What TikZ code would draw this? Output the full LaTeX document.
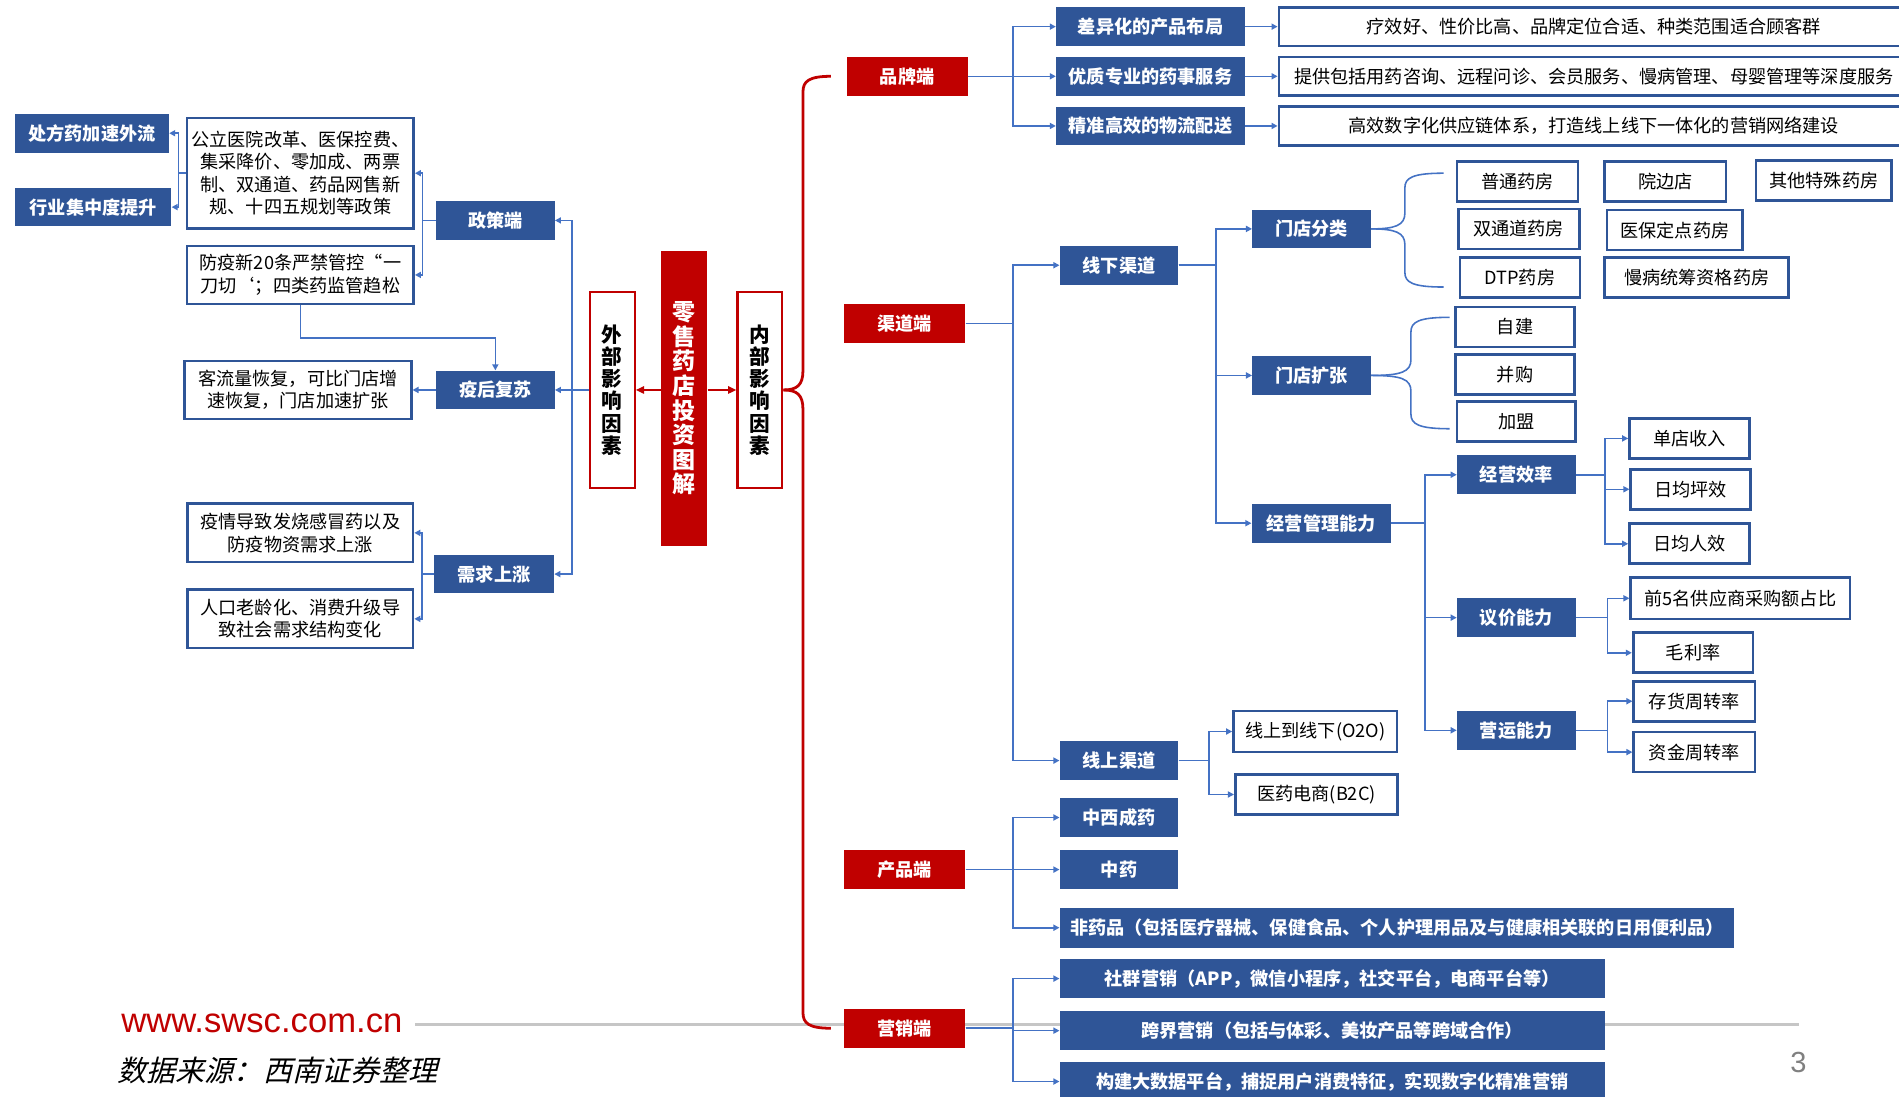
\documentclass[tikz,border=0pt]{standalone}
\usepackage{fontspec}
\setmainfont{Noto Sans CJK SC}
\newfontfamily\webfont{Liberation Sans}
\newfontfamily\notefont[FakeSlant=0.25]{Noto Sans CJK SC}
\usetikzlibrary{arrows.meta}
\definecolor{boxblue}{HTML}{2F5597}
\definecolor{linkblue}{HTML}{4472C4}
\definecolor{brandred}{HTML}{C00000}
\newcommand{\boxfont}{\fontsize{15}{18.5}\selectfont}
\tikzstyle{every node}=[inner sep=0pt, align=center, font=\boxfont]
\tikzstyle{bluebox}=[fill=boxblue, text=white, font=\boxfont\bfseries, minimum width=98, minimum height=32]
\tikzstyle{whitebox}=[draw=boxblue, line width=2.2pt, fill=white, minimum width=99, minimum height=33]
\tikzstyle{redbox}=[fill=brandred, text=white, font=\boxfont\bfseries, minimum width=100, minimum height=32]
\tikzstyle{redframe}=[draw=brandred, line width=1.8pt, fill=white, minimum width=37, minimum height=162, font=\bfseries\fontsize{17}{18.4}\selectfont]
\tikzstyle{link}=[linkblue, line width=1.3pt, -{Triangle[length=5pt,width=5pt]}]
\tikzstyle{bracket}=[linkblue, line width=1.3pt]
\tikzstyle{redlink}=[brandred, line width=2pt, -{Triangle[length=7pt,width=6pt]}]
\tikzstyle{redbrace}=[brandred, line width=2.3pt]

\begin{document}
\begin{tikzpicture}[x=1pt, y=-1pt]
    \fill[white] (0,0) rectangle (1568,905);
    \useasboundingbox (0,0) rectangle (1568,905);
% Footer line
    \draw[gray!45, line width=3pt] (343,846) -- (1485,846);
% Outer factors
    \node[bluebox, minimum width=127] (rxout) at (76,110) {处方药加速外流};
    \node[bluebox, minimum width=129] (concen) at (77,171) {行业集中度提升};
    \node[whitebox, minimum width=187, minimum height=91] (policytxt) at (248,143) {公立医院改革、医保控费、\\集采降价、零加成、两票\\制、双通道、药品网售新\\规、十四五规划等政策};
    \node[whitebox, minimum width=187, minimum height=48] (antiepi) at (248,227) {防疫新20条严禁管控“一\\刀切‘；四类药监管趋松};
    \node[bluebox] (policy) at (409,182) {政策端};
    \node[whitebox, minimum width=187, minimum height=48] (traffic) at (246,322) {客流量恢复，可比门店增\\速恢复，门店加速扩张};
    \node[bluebox] (recover) at (409,322) {疫后复苏};
    \node[whitebox, minimum width=186, minimum height=48] (fever) at (248,440) {疫情导致发烧感冒药以及\\防疫物资需求上涨};
    \node[whitebox, minimum width=186, minimum height=48] (aging) at (248,511) {人口老龄化、消费升级导\\致社会需求结构变化};
    \node[bluebox, minimum width=99] (demand) at (408,474) {需求上涨};
% Centre
    \node[redframe] (outer) at (505.5,322) {外\\部\\影\\响\\因\\素};
    \node[fill=brandred, text=white, minimum width=38, minimum height=244, font=\bfseries\fontsize{19}{20.3}\selectfont] (core) at (565,329) {零\\售\\药\\店\\投\\资\\图\\解};
    \node[redframe] (inner) at (627.5,322) {内\\部\\影\\响\\因\\素};
    \draw[redlink] (core.west |- outer.east) -- (outer.east);
    \draw[redlink] (core.east |- inner.west) -- (inner.west);
% Inner factors
    \node[redbox] (brand) at (749,63) {品牌端};
    \node[redbox] (channel) at (747,267) {渠道端};
    \node[redbox] (product) at (747,718) {产品端};
    \node[redbox] (market) at (747,849) {营销端};
    \coordinate (bracetop) at (686,63);
    \coordinate (bracebot) at (686,849);
    \draw[redbrace] (inner.east) .. controls (658,322) and (663,318) .. (663,306) -- (663,76) .. controls (663,67) and (668,63) .. (bracetop);
    \draw[redbrace] (inner.east) .. controls (658,322) and (663,326) .. (663,338) -- (663,836) .. controls (663,845) and (668,849) .. (bracebot);
% Brand
    \node[bluebox, minimum width=156] (diff) at (950,22) {差异化的产品布局};
    \node[bluebox, minimum width=156] (service) at (950,63) {优质专业的药事服务};
    \node[bluebox, minimum width=156] (logist) at (950,104) {精准高效的物流配送};
    \node[whitebox, minimum width=520, minimum height=32] (diffnote) at (1316,22) {疗效好、性价比高、品牌定位合适、种类范围适合顾客群};
    \node[whitebox, minimum width=520, minimum height=32] (servnote) at (1316,63) {提供包括用药咨询、远程问诊、会员服务、慢病管理、母婴管理等深度服务};
    \node[whitebox, minimum width=520, minimum height=32] (lognote) at (1316,104) {高效数字化供应链体系，打造线上线下一体化的营销网络建设};
    \draw[link] (brand.east) -- ++(37,0) |- (diff.west);
    \draw[link] (brand.east) -- ++(37,0) |- (service.west);
    \draw[link] (brand.east) -- ++(37,0) |- (logist.west);
    \draw[link] (diff.east) -- (diffnote.west);
    \draw[link] (service.east) -- (servnote.west);
    \draw[link] (logist.east) -- (lognote.west);
% Channel
    \node[bluebox] (offline) at (924,219) {线下渠道};
    \node[bluebox] (online) at (924,628) {线上渠道};
    \node[bluebox] (classify) at (1083,189) {门店分类};
    \node[bluebox] (expand) at (1083,310) {门店扩张};
    \node[bluebox, minimum width=115] (manage) at (1091,432) {经营管理能力};
    \node[whitebox, minimum width=100] (ordinary) at (1253,150) {普通药房};
    \node[whitebox, minimum width=100] (nearhosp) at (1375,150) {院边店};
    \node[whitebox, minimum width=112] (special) at (1506,149) {其他特殊药房};
    \node[whitebox, minimum width=100] (dual) at (1254,189) {双通道药房};
    \node[whitebox, minimum width=112] (insured) at (1383,190) {医保定点药房};
    \node[whitebox] (dtp) at (1255,229) {DTP药房};
    \node[whitebox, minimum width=152] (chronic) at (1401,229) {慢病统筹资格药房};
    \node[whitebox, minimum width=98] (selfbuilt) at (1251,270) {自建};
    \node[whitebox, minimum width=98] (merge) at (1251,309) {并购};
    \node[whitebox, minimum width=98] (franchise) at (1252,348) {加盟};
    \node[bluebox] (effic) at (1252,392) {经营效率};
    \node[bluebox] (bargain) at (1252,510) {议价能力};
    \node[bluebox] (operate) at (1252,603) {营运能力};
    \node[whitebox] (revenue) at (1395,362) {单店收入};
    \node[whitebox] (areaeff) at (1396,404) {日均坪效};
    \node[whitebox] (staffeff) at (1395,449) {日均人效};
    \node[whitebox, minimum width=181, minimum height=34] (top5) at (1437,494) {前5名供应商采购额占比};
    \node[whitebox] (margin) at (1398,539) {毛利率};
    \node[whitebox, minimum width=100] (stock) at (1399,579) {存货周转率};
    \node[whitebox, minimum width=100] (capital) at (1399,621) {资金周转率};
    \node[whitebox, minimum width=135, minimum height=34] (o2o) at (1086,604) {线上到线下(O2O)};
    \node[whitebox, minimum width=134] (b2c) at (1087,656) {医药电商(B2C)};
    \draw[link] (channel.east) -- ++(39,0) |- (offline.west);
    \draw[link] (channel.east) -- ++(39,0) |- (online.west);
    \draw[link] (offline.east) -- ++(31,0) |- (classify.west);
    \draw[link] (offline.east) -- ++(31,0) |- (expand.west);
    \draw[link] (offline.east) -- ++(31,0) |- (manage.west);
    \draw[bracket] (classify.east) .. controls (1152,189) and (1160,186) .. (1160,176) -- (1160,155) .. controls (1160,147) and (1166,143) .. (1192,143);
    \draw[bracket] (classify.east) .. controls (1152,189) and (1160,192) .. (1160,202) -- (1160,225) .. controls (1160,233) and (1166,237) .. (1192,237);
    \draw[bracket] (expand.east) .. controls (1157,310) and (1165,307) .. (1165,297) -- (1165,274) .. controls (1165,266) and (1171,262) .. (1197,262);
    \draw[bracket] (expand.east) .. controls (1157,310) and (1165,313) .. (1165,323) -- (1165,342) .. controls (1165,350) and (1171,354) .. (1197,354);
    \draw[link] (manage.east) -- ++(28,0) |- (effic.west);
    \draw[link] (manage.east) -- ++(28,0) |- (bargain.west);
    \draw[link] (manage.east) -- ++(28,0) |- (operate.west);
    \draw[link] (effic.east) -- ++(24,0) |- (revenue.west);
    \draw[link] (effic.east) -- ++(24,0) |- (areaeff.west);
    \draw[link] (effic.east) -- ++(24,0) |- (staffeff.west);
    \draw[link] (bargain.east) -- ++(26,0) |- (top5.west);
    \draw[link] (bargain.east) -- ++(26,0) |- (margin.west);
    \draw[link] (operate.east) -- ++(26,0) |- (stock.west);
    \draw[link] (operate.east) -- ++(26,0) |- (capital.west);
    \draw[link] (online.east) -- ++(25,0) |- (o2o.west);
    \draw[link] (online.east) -- ++(25,0) |- (b2c.west);
% Product
    \node[bluebox] (chinwest) at (924,675) {中西成药};
    \node[bluebox] (tcm) at (924,718) {中药};
    \node[bluebox, minimum width=557, minimum height=33] (nondrug) at (1153.5,766) {非药品（包括医疗器械、保健食品、个人护理用品及与健康相关联的日用便利品）};
    \draw[link] (product.east) -- ++(39,0) |- (chinwest.west);
    \draw[link] (product.east) -- ++(39,0) |- (tcm.west);
    \draw[link] (product.east) -- ++(39,0) |- (nondrug.west);
% Marketing
    \node[bluebox, minimum width=450] (social) at (1100,808) {社群营销（APP，微信小程序，社交平台，电商平台等）};
    \node[bluebox, minimum width=450] (cross) at (1100,851) {跨界营销（包括与体彩、美妆产品等跨域合作）};
    \node[bluebox, minimum width=450] (bigdata) at (1100,893) {构建大数据平台，捕捉用户消费特征，实现数字化精准营销};
    \draw[link] (market.east) -- ++(39,0) |- (social.west);
    \draw[link] (market.east) -- ++(39,0) |- (cross.west);
    \draw[link] (market.east) -- ++(39,0) |- (bigdata.west);
% Outer links
    \draw[link] (outer.west) -- ++(-14,0) |- (policy.east);
    \draw[link] (outer.west) -- ++(-14,0) |- (recover.east);
    \draw[link] (outer.west) -- ++(-14,0) |- (demand.east);
    \draw[link] (policy.west) -- ++(-11,0) |- (policytxt.east);
    \draw[link] (policy.west) -- ++(-11,0) |- (antiepi.east);
    \draw[link] (policytxt.west) -- ++(-6,0) |- (rxout.east);
    \draw[link] (policytxt.west) -- ++(-6,0) |- (concen.east);
    \draw[link] (antiepi.south) -- ++(0,27) -| (recover.north);
    \draw[link] (recover.west) -- (traffic.east);
    \draw[link] (demand.west) -- ++(-10,0) |- (fever.east);
    \draw[link] (demand.west) -- ++(-10,0) |- (aging.east);
% Footer
    \node[anchor=west, text=brandred, font=\webfont\fontsize{28.6}{30}\selectfont] (site) at (100,845) {www.swsc.com.cn};
    \node[anchor=west, font=\notefont\fontsize{24}{26}\selectfont] (source) at (97,884) {数据来源：西南证券整理};
    \node[text=gray, font=\webfont\fontsize{24}{26}\selectfont] (pagenum) at (1485,877) {3};
\end{tikzpicture}
\end{document}
